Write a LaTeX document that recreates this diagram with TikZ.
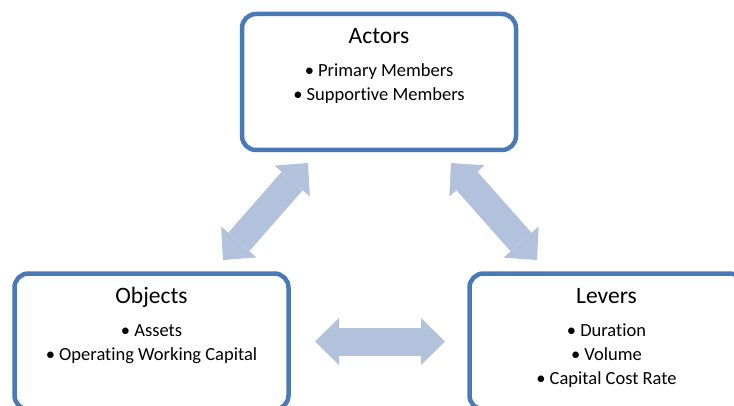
\documentclass[tikz,border=0pt]{standalone}
\usepackage{fontspec}
\setmainfont{Carlito}[Ligatures=NoCommon]
\usetikzlibrary{arrows.meta,positioning}

\definecolor{boxblue}{HTML}{4A7AB5}
\definecolor{arrowblue}{HTML}{B3C2DC}

\tikzset{
  panel/.style={draw=boxblue, line width=4.5pt, rounded corners=14pt, fill=white,
    minimum width=274pt, minimum height=136pt, outer sep=0pt},
  heading/.style={font=\fontsize{23.5}{28}\selectfont, anchor=base, inner sep=0pt},
  points/.style={font=\fontsize{18.5}{24}\selectfont, align=center, anchor=base, inner sep=0pt},
  twoway/.style={draw=arrowblue, line width=28pt,
    {Triangle[width=47pt,length=24pt,line width=0pt]}-{Triangle[width=47pt,length=24pt,line width=0pt]}},
}

\begin{document}
\begin{tikzpicture}[x=1pt, y=1pt]
    \useasboundingbox (0,0) rectangle (734,405);
    \clip (0,0) rectangle (734,405);
    \node[panel] (actors) at (379, 323) {};
    \node[panel] (objects) at (151.5, 63.5) {};
    \node[panel] (levers) at (606.5, 63.5) {};
    % list nodes sit on the baseline of their last line
    \node[heading] (actorsTitle) at ([yshift=-30pt]actors.north) {Actors};
    \node[points] (actorsList) at ([yshift=-87pt]actors.north) {• Primary Members\\• Supportive Members};
    \node[heading] (objectsTitle) at ([yshift=-30pt]objects.north) {Objects};
    \node[points] (objectsList) at ([yshift=-87pt]objects.north) {• Assets\\• Operating Working Capital};
    \node[heading] (leversTitle) at ([yshift=-30pt]levers.north) {Levers};
    \node[points] (leversList) at ([yshift=-111pt]levers.north) {• Duration\\• Volume\\• Capital Cost Rate};
    \draw[twoway] ([xshift=71.5pt, yshift=13.5pt]objects.north) -- ([xshift=-71pt, yshift=-13pt]actors.south);
    \draw[twoway] ([xshift=72pt, yshift=-13pt]actors.south) -- ([xshift=-69.5pt, yshift=13.5pt]levers.north);
    \draw[twoway] ([xshift=26.5pt]objects.east) -- ([xshift=-24.5pt]levers.west);
\end{tikzpicture}
\end{document}
